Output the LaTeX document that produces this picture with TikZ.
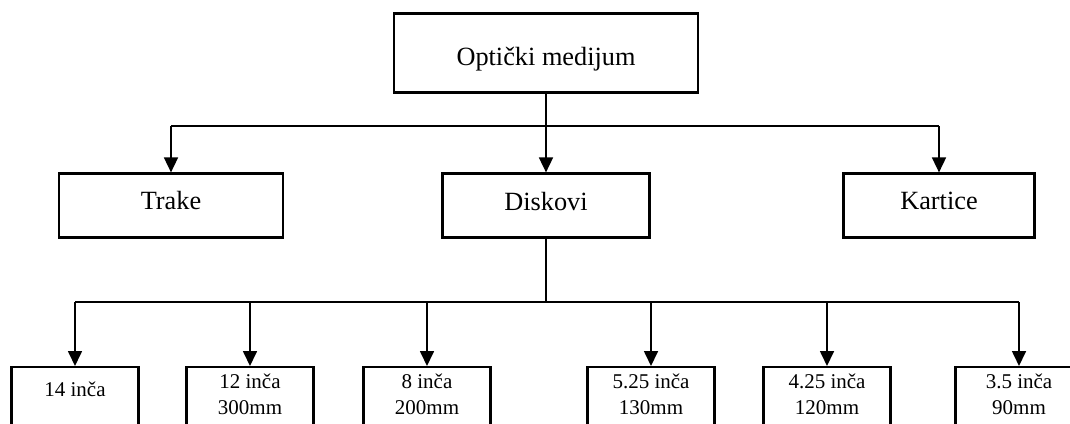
\documentclass[tikz,border=0pt]{standalone}
\usepackage{fontspec}
\setmainfont{Liberation Serif}
\usetikzlibrary{arrows.meta}
\begin{document}
\begin{tikzpicture}[x=1pt,y=-1pt,
  box/.style={draw, line width=2.2pt, inner sep=0pt, minimum height=64pt},
  lowbox/.style={box, anchor=north, minimum width=127pt, minimum height=120pt},
  conn/.style={line width=1.7pt},
  arr/.style={conn, -{Triangle[width=14pt,length=15pt]}},
  big/.style={anchor=base, inner sep=0pt, font=\fontsize{26.3}{30}\selectfont},
  small/.style={anchor=base, inner sep=0pt, align=center, font=\fontsize{21}{25.5}\selectfont}]
\useasboundingbox (0,0) rectangle (1070,423);
\clip (0,0) rectangle (1070,423);

% frames
\node[box, minimum width=304pt, minimum height=79pt] (om) at (546,53) {};
\node[box, minimum width=224pt] (tr) at (171,205.5) {};
\node[box, minimum width=207pt] (di) at (546,205.5) {};
\node[box, minimum width=191pt] (ka) at (939,205.5) {};
\node[lowbox] (s1) at (75,366) {};
\node[lowbox] (s2) at (250,366) {};
\node[lowbox] (s3) at (427,366) {};
\node[lowbox] (s4) at (651,366) {};
\node[lowbox] (s5) at (827,366) {};
\node[lowbox] (s6) at (1019,366) {};

% labels (base = baseline of the last line)
\node[big] (tom) at (546,65.7) {Optički medijum};
\node[big] (ttr) at (171,209.3) {Trake};
\node[big] (tdi) at (546,210) {Diskovi};
\node[big] (tka) at (939,209.3) {Kartice};
\node[small] (t1) at (75,396.5) {14 inča};
\node[small] (t2) at (250,414) {12 inča\\300mm};
\node[small] (t3) at (427,414) {8 inča\\200mm};
\node[small] (t4) at (651,414) {5.25 inča\\130mm};
\node[small] (t5) at (827,414) {4.25 inča\\120mm};
\node[small] (t6) at (1019,414) {3.5 inča\\90mm};

% connectors
\coordinate (b1) at (546,126);
\coordinate (b2) at (546,302);
\draw[conn] (om.south) -- (b1);
\draw[conn] (b1 -| tr.north) -- (b1 -| ka.north);
\foreach \n in {tr,di,ka} \draw[arr] (b1 -| \n.north) -- (\n.north);
\draw[conn] (di.south) -- (b2);
\draw[conn] (b2 -| s1.north) -- (b2 -| s6.north);
\foreach \n in {s1,s2,s3,s4,s5,s6} \draw[arr] (b2 -| \n.north) -- (\n.north);
\end{tikzpicture}
\end{document}
